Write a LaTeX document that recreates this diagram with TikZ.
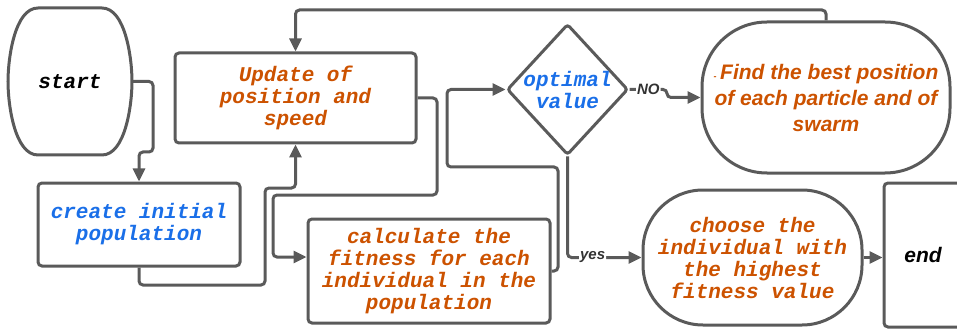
\documentclass[tikz,border=0pt]{standalone}
\usepackage{fontspec}
\setmainfont{Liberation Sans}
\setmonofont{Liberation Mono}
\usetikzlibrary{arrows.meta,shapes.geometric,positioning}
\definecolor{flowgray}{HTML}{5A5A5A}
\definecolor{rust}{HTML}{CC5200}
\definecolor{skyblue}{HTML}{1A6FE8}
\newcommand{\monobf}{\ttfamily\bfseries\itshape\fontsize{21}{22}\selectfont}
\newcommand{\sansbf}{\rmfamily\bfseries\itshape\fontsize{21}{26}\selectfont}

\begin{document}
\begin{tikzpicture}[x=1pt, y=-1pt, every node/.style={align=center, inner sep=0pt},
    box/.style={draw=flowgray, line width=3pt, rounded corners=4pt},
    flow/.style={draw=flowgray, line width=3pt, rounded corners=4pt, -{Triangle[length=13pt,width=12pt]}},
    lbl/.style={fill=white, inner sep=1pt, text=black!80, font=\rmfamily\bfseries\itshape\fontsize{15}{15}\selectfont}]
    \useasboundingbox (0,0) rectangle (957,331);
    \clip (0,0) rectangle (957,331);
    % Terminals
    \node[minimum width=124pt, minimum height=147pt, font=\monobf] (start) at (70,81.5) {start};
    \draw[flowgray, line width=3pt, looseness=0.75] (38,8) -- (102,8) to[out=0,in=90] (132,81.5)
        to[out=-90,in=0] (102,155) -- (38,155) to[out=180,in=-90] (8,81.5)
        to[out=90,in=180] cycle;
    \node[box, minimum width=78pt, minimum height=144pt, font=\sansbf] (finish) at (923,255) {end};
    % Process boxes
    \node[box, minimum width=202pt, minimum height=83pt, font=\monobf, text=skyblue] (create) at (139,224.5) {create initial\\population};
    \node[box, minimum width=241pt, minimum height=90pt, font=\monobf, text=rust] (update) at (295.5,98) {Update of\\position and\\speed};
    \node[box, minimum width=242pt, minimum height=104pt, font=\monobf, text=rust] (calc) at (429,271) {calculate the\\fitness for each\\individual in the\\population};
    \node[box, rounded corners=65pt, minimum width=248pt, minimum height=151pt, font=\sansbf, text=rust] (best) at (826,97.5) {{\fontsize{9}{9}\selectfont -}\,Find the best position\\of each particle and of\\swarm};
    \node[box, rounded corners=60pt, minimum width=219pt, minimum height=135pt, font=\monobf, text=rust] (choose) at (752.5,257.5) {choose the\\individual with\\the highest\\fitness value};
    % Decision
    \node[box, diamond, rounded corners=3pt, minimum width=121pt, minimum height=131pt] (opt) at (567.5,89.5) {};
    \node[font=\monobf, text=skyblue] (optlbl) at (opt.center) {optimal\\value};
    % Connectors
    \draw[flow] (start.east) -| (153,152) -| (create.north);
    \draw[flow] (create.south) |- (265,285) |- (295.5,188) -- (update.south);
    \draw[flow] (update.east) -| (437,195) -| (273,257) -- (calc.west |- 0,257);
    \draw[flow] (calc.east) -| (558,167) -| (447,89.5) -- (opt.west);
    \draw[flow] (opt.east) -- node[lbl] (no) {NO} (667,89.5) |- (best.west);
    \draw[flow] (best.north) |- (295.5,10) -- (update.north);
    \draw[flow] (opt.south) |- node[lbl, pos=0.67] (yes) {yes} (choose.west);
    \draw[flow] (choose.east) -- (finish.west |- choose.east);
\end{tikzpicture}
\end{document}
